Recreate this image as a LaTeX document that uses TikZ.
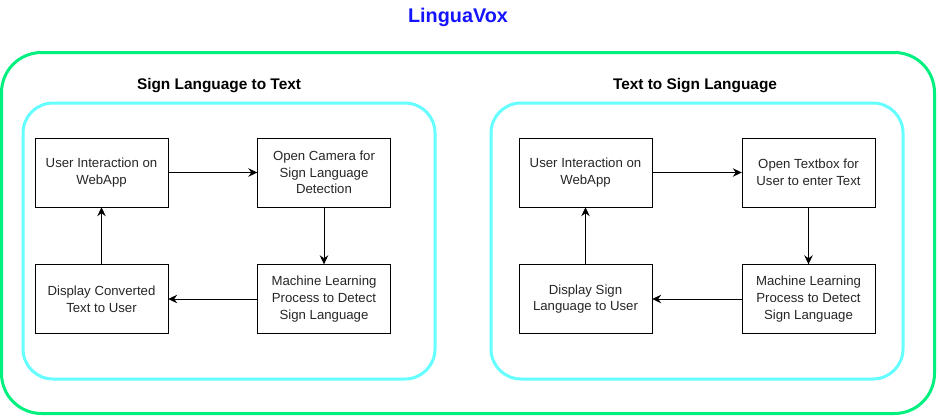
\documentclass[tikz,border=0pt]{standalone}
\usepackage{fontspec}
\setmainfont{Liberation Sans}
\usetikzlibrary{arrows.meta}
\definecolor{voxgreen}{RGB}{0,240,128}
\definecolor{voxcyan}{RGB}{102,255,255}
\definecolor{voxblue}{RGB}{20,20,255}

\begin{document}
\begin{tikzpicture}[
        x=1pt, y=-1pt,
        box/.style={
            draw,
            rectangle,
            minimum width=133pt,
            minimum height=69pt,
            align=center,
            inner sep=2pt,
            text=black!85,
            font=\fontsize{13.2}{16.7}\selectfont,
        },
        group/.style={
            draw=voxcyan,
            line width=3pt,
            rounded corners=30pt,
            minimum width=412pt,
            minimum height=276pt,
        },
        frame/.style={
            draw=voxgreen,
            line width=3pt,
            rounded corners=40pt,
            minimum width=933pt,
            minimum height=361pt,
        },
        heading/.style={
            font=\fontsize{15.4}{18}\selectfont\bfseries,
        },
    ]
    \useasboundingbox (0, 0) rectangle (938, 416);

    \node[font=\fontsize{19.8}{22}\selectfont\bfseries, text=voxblue] (title) at (458, 17) {LinguaVox};
    \node[frame] (outer) at (468, 233) {};

    \node[group] (gl) at (229, 241) {};
    \node[group] (gr) at (697, 241) {};
    \node[heading] (hl) at (219, 86) {Sign Language to Text};
    \node[heading] (hr) at (695, 86) {Text to Sign Language};

    \node[box] (l1) at (101.5, 172.5) {User Interaction on\\WebApp};
    \node[box] (l2) at (324, 172.5) {Open Camera for\\Sign Language\\Detection};
    \node[box] (l3) at (324, 299) {Machine Learning\\Process to Detect\\Sign Language};
    \node[box] (l4) at (101.5, 299) {Display Converted\\Text to User};

    \node[box] (r1) at (585.5, 172.5) {User Interaction on\\WebApp};
    \node[box] (r2) at (808.5, 172.5) {Open Textbox for\\User to enter Text};
    \node[box] (r3) at (808.5, 299) {Machine Learning\\Process to Detect\\Sign Language};
    \node[box] (r4) at (585.5, 299) {Display Sign\\Language to User};

    \begin{scope}[->, line width=0.9pt, >={Stealth[length=9pt, width=8.5pt, inset=3pt]}]
        \draw (l1) -- (l2);
        \draw (l2) -- (l3);
        \draw (l3) -- (l4);
        \draw (l4) -- (l1);
        \draw (r1) -- (r2);
        \draw (r2) -- (r3);
        \draw (r3) -- (r4);
        \draw (r4) -- (r1);
    \end{scope}
\end{tikzpicture}
\end{document}
